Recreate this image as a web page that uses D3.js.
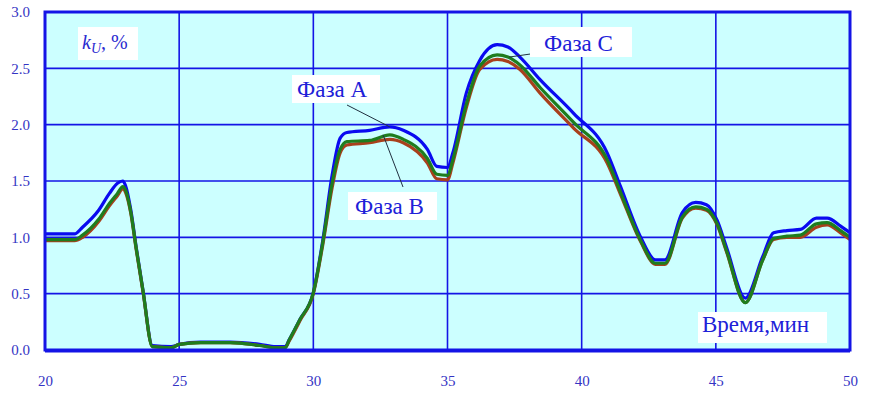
<!DOCTYPE html>
<html>
<head>
<meta charset="utf-8">
<script src="https://cdn.jsdelivr.net/npm/d3@7"></script>
<style>
  html, body { margin: 0; padding: 0; background: #fff; }
  svg { display: block; }
</style>
</head>
<body>
<svg id="chart" width="869" height="393"></svg>
<script>
// time, min
const time = [20, 21.1, 21.4, 22.0, 22.4, 22.7, 22.9, 23.0, 23.2, 23.4, 23.65, 24.0, 24.7, 25.0, 25.8, 26.9, 28.0, 28.6, 28.95, 29.1, 29.5, 30.0, 30.35, 30.7, 31.0, 31.25, 32.1, 32.85, 33.35, 34.25, 34.6, 35.0, 35.2, 35.7, 36.2, 36.85, 37.25, 37.7, 38.45, 39.7, 40.95, 41.45, 42.2, 42.75, 43.1, 43.75, 44.25, 44.65, 45.05, 45.4, 46.1, 46.75, 47.15, 47.65, 48.15, 48.75, 49.15, 49.65, 50]

// kU, % per phase
const phaseA = [1.03, 1.03, 1.09, 1.24, 1.39, 1.48, 1.50, 1.46, 1.24, 0.91, 0.53, 0.04, 0.03, 0.05, 0.07, 0.07, 0.05, 0.03, 0.03, 0.09, 0.27, 0.51, 0.97, 1.55, 1.88, 1.93, 1.95, 1.98, 1.95, 1.78, 1.63, 1.62, 1.75, 2.28, 2.57, 2.71, 2.69, 2.60, 2.40, 2.10, 1.75, 1.45, 1.00, 0.80, 0.80, 1.22, 1.31, 1.29, 1.15, 0.91, 0.46, 0.83, 1.04, 1.06, 1.07, 1.17, 1.17, 1.10, 1.04]
const phaseB = [0.98, 0.98, 1.02, 1.16, 1.30, 1.39, 1.45, 1.42, 1.22, 0.90, 0.53, 0.03, 0.02, 0.05, 0.065, 0.065, 0.04, 0.02, 0.02, 0.09, 0.27, 0.51, 0.95, 1.48, 1.78, 1.85, 1.86, 1.91, 1.87, 1.70, 1.56, 1.55, 1.69, 2.18, 2.52, 2.62, 2.60, 2.53, 2.33, 2.02, 1.69, 1.40, 0.97, 0.77, 0.77, 1.18, 1.27, 1.25, 1.12, 0.88, 0.42, 0.80, 0.99, 1.01, 1.02, 1.12, 1.13, 1.06, 1.00]
const phaseC = [0.97, 0.97, 1.00, 1.14, 1.28, 1.37, 1.43, 1.40, 1.21, 0.89, 0.52, 0.03, 0.02, 0.05, 0.065, 0.065, 0.04, 0.02, 0.02, 0.08, 0.26, 0.50, 0.93, 1.44, 1.75, 1.82, 1.84, 1.87, 1.84, 1.66, 1.52, 1.51, 1.66, 2.15, 2.49, 2.58, 2.56, 2.49, 2.28, 1.97, 1.66, 1.38, 0.96, 0.76, 0.76, 1.17, 1.26, 1.24, 1.11, 0.87, 0.42, 0.80, 0.98, 1.00, 1.00, 1.09, 1.11, 1.04, 0.98]

const xTicks = [20, 25, 30, 35, 40, 45, 50]
const yTicks = [0, 0.5, 1.0, 1.5, 2.0, 2.5, 3.0]

const SERIF = 'Liberation Serif'
const svg = d3.select('#chart')
const plotL = 45, plotR = 850, plotT = 12, plotB = 350

const x = d3.scaleLinear().domain([20, 50]).range([plotL, plotR])
const y = d3.scaleLinear().domain([0, 3]).range([plotB, plotT])

const BLUE = '#1414e6'
const LABEL = '#3434c4'

// plot background
svg.append('rect')
  .attr('x', plotL).attr('y', plotT)
  .attr('width', plotR - plotL).attr('height', plotB - plotT)
  .attr('fill', '#ccffff')

// grid
svg.append('g')
  .selectAll('line')
  .data(xTicks.slice(1, -1))
  .join('line')
  .attr('x1', d => x(d)).attr('x2', d => x(d))
  .attr('y1', plotT).attr('y2', plotB)
  .attr('stroke', BLUE).attr('stroke-width', 1.6)

svg.append('g')
  .selectAll('line')
  .data(yTicks.slice(1, -1))
  .join('line')
  .attr('x1', plotL).attr('x2', plotR)
  .attr('y1', d => y(d)).attr('y2', d => y(d))
  .attr('stroke', BLUE).attr('stroke-width', 1.6)

// series: blue on bottom, brown then green on top
const series = [
  { name: 'A', values: phaseA, color: '#0a0af0' },
  { name: 'C', values: phaseC, color: '#a8401c' },
  { name: 'B', values: phaseB, color: '#1e7d1e' }
]

const line = d3.line()
  .x(d => x(d[0]))
  .y(d => y(d[1]))
  .curve(d3.curveMonotoneX)

svg.append('g')
  .selectAll('path')
  .data(series)
  .join('path')
  .attr('d', s => line(time.map((t, i) => [t, s.values[i]])))
  .attr('fill', 'none')
  .attr('stroke', s => s.color)
  .attr('stroke-width', 3.2)
  .attr('stroke-linejoin', 'round')

// frame
svg.append('rect')
  .attr('x', plotL).attr('y', plotT)
  .attr('width', plotR - plotL).attr('height', plotB - plotT)
  .attr('fill', 'none')
  .attr('stroke', BLUE).attr('stroke-width', 3)
svg.append('line')
  .attr('x1', plotL).attr('x2', plotR)
  .attr('y1', plotB + 1).attr('y2', plotB + 1)
  .attr('stroke', BLUE).attr('stroke-width', 3)

// axes (labels only)
const xAxis = svg.append('g')
  .attr('transform', `translate(0,${plotB + 22})`)
  .call(d3.axisBottom(x).tickValues(xTicks).tickFormat(d3.format('d')).tickSize(0))
xAxis.select('.domain').remove()
xAxis.selectAll('text')
  .attr('fill', LABEL).attr('font-size', 15)
  .attr('font-family', SERIF)

const yAxis = svg.append('g')
  .attr('transform', `translate(${plotL - 12},0)`)
  .call(d3.axisLeft(y).tickValues(yTicks).tickFormat(d3.format('.1f')).tickSize(0))
yAxis.select('.domain').remove()
yAxis.selectAll('text')
  .attr('fill', LABEL).attr('font-size', 15)
  .attr('font-family', SERIF)

// boxed text labels
function boxLabel(bx, by, bw, bh) {
  svg.append('rect')
    .attr('x', bx).attr('y', by).attr('width', bw).attr('height', bh)
    .attr('fill', '#ffffff')
}

// leader lines
const leaders = [
  { from: [347, 105], at: [32.85, phaseA[27]] },
  { from: [403, 187], at: [32.6, phaseB[27]] },
  { from: [558, 50], at: [37.3, phaseB[36]] }
]
svg.append('g')
  .selectAll('line')
  .data(leaders)
  .join('line')
  .attr('x1', d => d.from[0]).attr('y1', d => d.from[1])
  .attr('x2', d => x(d.at[0])).attr('y2', d => y(d.at[1]))
  .attr('stroke', '#203040').attr('stroke-width', 1)

boxLabel(78, 27, 60, 33)
const kt = svg.append('text')
  .attr('x', 82).attr('y', 49)
  .attr('font-family', SERIF)
  .attr('fill', '#2a2ad0').attr('font-size', 20)
kt.append('tspan').attr('font-style', 'italic').text('k')
kt.append('tspan').attr('font-style', 'italic').attr('font-size', 14).attr('dy', 4).text('U')
kt.append('tspan').attr('dy', -4).text(', %')

const phaseLabels = [
  { text: 'Фаза А', box: [292, 75, 88, 28], tx: 297, ty: 97 },
  { text: 'Фаза В', box: [348, 192, 89, 28], tx: 355, ty: 214 },
  { text: 'Фаза С', box: [530, 27, 102, 30], tx: 544, ty: 51 },
  { text: 'Время,мин', box: [698, 312, 129, 31], tx: 702, ty: 332 }
]
phaseLabels.forEach(d => {
  boxLabel(...d.box)
  svg.append('text')
    .attr('x', d.tx).attr('y', d.ty)
    .attr('font-family', SERIF)
    .attr('fill', '#2020d8')
    .attr('font-size', 23)
    .text(d.text)
})
</script>
</body>
</html>
